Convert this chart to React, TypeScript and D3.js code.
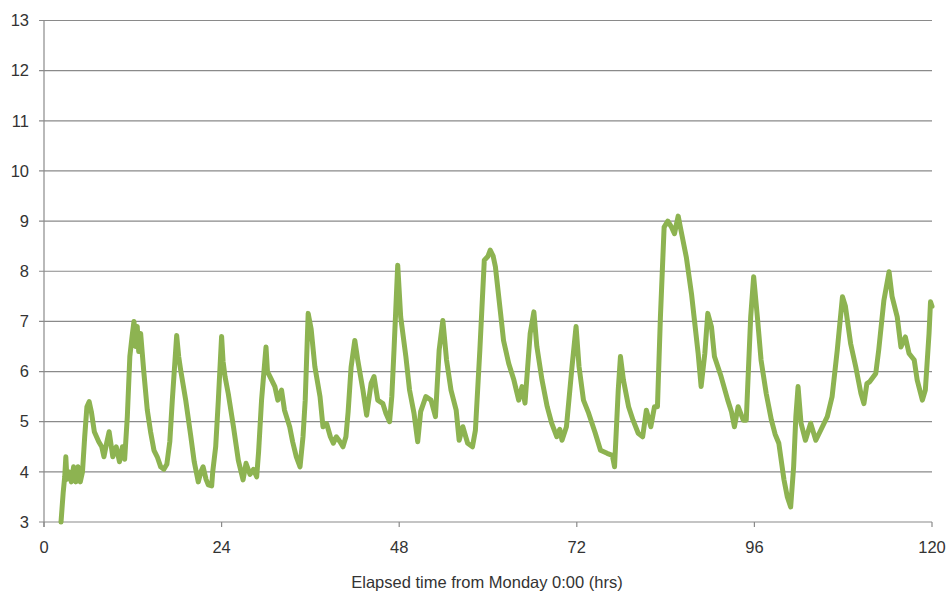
import React from "react";
import * as d3 from "d3";

const hours: number[] = [
  2.3, 2.6, 2.8, 2.95, 3.1, 3.4, 3.7, 4.0, 4.3, 4.6, 4.9, 5.2, 5.5, 5.8, 6.1, 6.4, 6.8, 7.4, 7.8, 8.1,
  8.5, 8.8, 9.3, 9.76, 10.2, 10.6, 10.9, 11.26, 11.6, 11.9, 12.16, 12.4, 12.6, 12.8, 13.06, 13.5, 13.96, 14.4, 14.86, 15.3,
  15.77, 16.2, 16.6, 17.0, 17.34, 17.93, 18.2, 18.47, 19.15, 19.8, 20.3, 20.85, 21.2, 21.5, 21.9, 22.2, 22.66, 22.8, 23.2, 23.56,
  24.0, 24.2, 24.46, 24.9, 25.6, 26.26, 26.9, 27.3, 27.84, 28.3, 28.74, 29.0, 29.4, 30.0, 30.2, 30.54, 31.2, 31.6, 32.1, 32.5,
  33.2, 33.6, 34.1, 34.6, 35.0, 35.3, 35.7, 36.1, 36.6, 37.3, 37.7, 38.2, 38.7, 39.1, 39.5, 40.0, 40.4, 40.8, 41.1, 41.5,
  42.0, 42.4, 43.1, 43.6, 44.2, 44.6, 45.1, 45.8, 46.2, 46.7, 47.0, 47.3, 47.8, 48.2, 48.9, 49.4, 50.0, 50.5, 50.9, 51.6,
  52.3, 52.9, 53.4, 53.9, 54.4, 55.0, 55.7, 56.1, 56.6, 57.25, 57.9, 58.3, 58.9, 59.5, 60.0, 60.3, 60.7, 61.0, 61.7, 62.1,
  62.8, 63.5, 64.15, 64.6, 65.0, 65.7, 66.2, 66.6, 67.3, 68.0, 68.6, 69.3, 69.7, 70.0, 70.6, 71.35, 71.9, 72.3, 72.9, 73.6,
  74.5, 75.2, 76.1, 76.8, 77.1, 77.6, 77.9, 78.3, 79.0, 79.6, 80.3, 80.9, 81.4, 82.0, 82.5, 82.9, 83.3, 83.8, 84.3, 84.8,
  85.2, 85.7, 86.1, 86.8, 87.5, 87.9, 88.4, 88.8, 89.3, 89.7, 90.2, 90.6, 91.5, 92.4, 92.9, 93.3, 93.8, 94.5, 94.9, 95.5,
  95.9, 96.4, 96.9, 97.6, 98.3, 98.8, 99.3, 100.0, 100.45, 100.9, 101.3, 101.6, 101.9, 102.3, 102.9, 103.6, 104.3, 104.96, 105.85, 106.5,
  107.2, 107.9, 108.3, 109.0, 109.7, 110.4, 110.8, 111.2, 111.6, 112.4, 112.8, 113.5, 114.2, 114.6, 115.3, 115.8, 116.4, 116.9, 117.6, 118.0,
  118.7, 119.1, 119.6, 119.8, 120.0,
];

const values: number[] = [
  3.0, 3.6, 3.9, 4.3, 3.85, 4.0, 3.8, 4.1, 3.8, 4.1, 3.8, 4.0, 4.7, 5.3, 5.4, 5.2, 4.8, 4.6, 4.5, 4.3,
  4.6, 4.8, 4.3, 4.5, 4.2, 4.5, 4.25, 5.1, 6.3, 6.7, 7.0, 6.5, 6.9, 6.4, 6.76, 5.97, 5.23, 4.8, 4.43, 4.3,
  4.1, 4.05, 4.15, 4.6, 5.43, 6.72, 6.3, 6.03, 5.43, 4.75, 4.2, 3.8, 4.0, 4.1, 3.85, 3.74, 3.72, 4.0, 4.5, 5.43,
  6.7, 6.2, 5.9, 5.56, 4.9, 4.23, 3.84, 4.17, 3.95, 4.05, 3.9, 4.4, 5.43, 6.49, 6.0, 5.9, 5.7, 5.43, 5.63, 5.23,
  4.9, 4.6, 4.3, 4.1, 4.7, 5.43, 7.16, 6.85, 6.1, 5.5, 4.9, 4.96, 4.7, 4.57, 4.7, 4.6, 4.5, 4.7, 5.2, 6.09,
  6.62, 6.23, 5.63, 5.13, 5.76, 5.9, 5.43, 5.36, 5.17, 5.0, 5.5, 6.43, 8.12, 7.09, 6.3, 5.63, 5.17, 4.6, 5.2, 5.5,
  5.43, 5.1, 6.43, 7.02, 6.23, 5.63, 5.23, 4.63, 4.9, 4.57, 4.5, 4.83, 6.43, 8.22, 8.3, 8.42, 8.3, 8.09, 7.16, 6.62,
  6.16, 5.83, 5.43, 5.7, 5.37, 6.76, 7.19, 6.5, 5.83, 5.3, 4.97, 4.7, 4.85, 4.63, 4.9, 6.09, 6.9, 6.1, 5.43, 5.17,
  4.77, 4.43, 4.37, 4.33, 4.1, 5.63, 6.3, 5.83, 5.3, 5.03, 4.77, 4.7, 5.23, 4.9, 5.3, 5.3, 7.09, 8.88, 9.0, 8.88,
  8.75, 9.1, 8.8, 8.28, 7.55, 7.02, 6.36, 5.7, 6.36, 7.16, 6.89, 6.3, 5.9, 5.43, 5.2, 4.9, 5.3, 5.03, 5.03, 7.09,
  7.89, 7.09, 6.23, 5.56, 5.03, 4.75, 4.57, 3.84, 3.5, 3.3, 4.1, 5.1, 5.7, 4.97, 4.63, 4.97, 4.63, 4.83, 5.1, 5.5,
  6.43, 7.49, 7.3, 6.56, 6.09, 5.56, 5.36, 5.76, 5.8, 5.96, 6.43, 7.42, 7.99, 7.5, 7.09, 6.49, 6.69, 6.36, 6.23, 5.83,
  5.43, 5.63, 6.76, 7.39, 7.3,
];

const xTicks: number[] = [0, 24, 48, 72, 96, 120];
const yTicks: number[] = [3, 4, 5, 6, 7, 8, 9, 10, 11, 12, 13];
const xTitle = "Elapsed time from Monday 0:00 (hrs)";

export default function App() {
  const W = 951;
  const H = 595;
  const left = 44;
  const right = 932;
  const top = 20.5;
  const bottom = 522;

  const x = d3.scaleLinear().domain([0, 120]).range([left, right]);
  const y = d3.scaleLinear().domain([3, 13]).range([bottom, top]);

  const pts: [number, number][] = hours.map((h, i) => [h, values[i]]);
  const line = d3
    .line<[number, number]>()
    .x((d) => x(d[0]))
    .y((d) => y(d[1]));

  const grid = "#8a8a8a";
  const font = "'Liberation Sans', Arial, sans-serif";

  return (
    <svg
      width={W}
      height={H}
      style={{ position: "absolute", left: 0, top: 0, background: "#fff" }}
    >
      <rect x={0} y={0} width={W} height={H} fill="#fff" />
      {yTicks.map((t) => (
        <g key={"y" + t}>
          <line x1={left - 5} x2={right} y1={y(t)} y2={y(t)} stroke={grid} strokeWidth={1.2} />
          <text
            x={29}
            y={y(t)}
            dy="0.35em"
            textAnchor="end"
            fontFamily={font}
            fontSize={16.5}
            fill="#333"
          >
            {t}
          </text>
        </g>
      ))}
      <line x1={left} x2={left} y1={top} y2={bottom + 5} stroke={grid} strokeWidth={1.2} />
      {xTicks.map((t) => (
        <g key={"x" + t}>
          <line x1={x(t)} x2={x(t)} y1={bottom} y2={bottom + 5} stroke={grid} strokeWidth={1.2} />
          <text
            x={x(t)}
            y={547}
            dy="0.35em"
            textAnchor="middle"
            fontFamily={font}
            fontSize={16.5}
            fill="#333"
          >
            {t}
          </text>
        </g>
      ))}
      <text
        x={487}
        y={582}
        dy="0.35em"
        textAnchor="middle"
        fontFamily={font}
        fontSize={16.5}
        fill="#333"
      >
        {xTitle}
      </text>
      <path
        d={line(pts) || ""}
        fill="none"
        stroke="#8db351"
        strokeWidth={5}
        strokeLinejoin="round"
        strokeLinecap="round"
      />
    </svg>
  );
}
